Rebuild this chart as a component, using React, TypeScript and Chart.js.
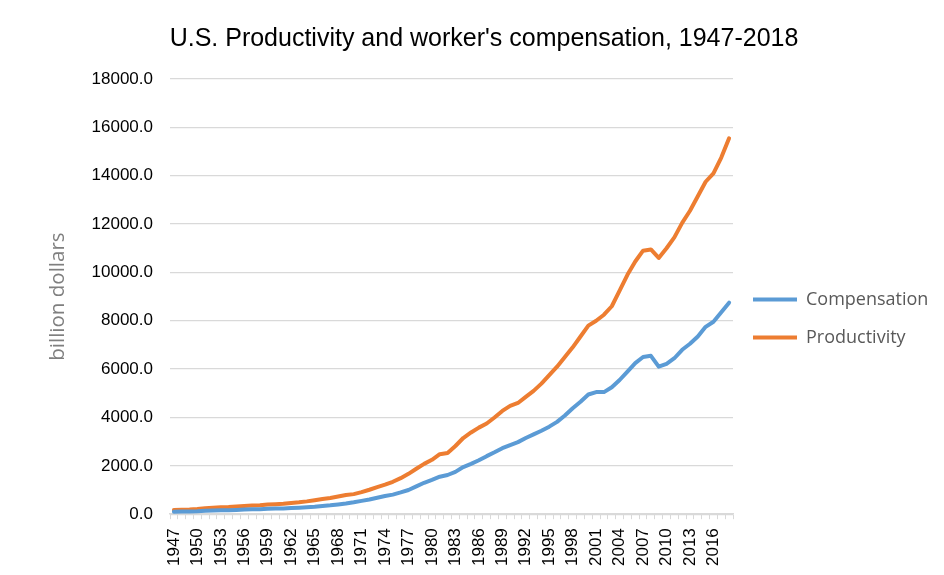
import React, { useEffect, useRef } from "react";
import { Chart, registerables } from "chart.js";

Chart.register(...registerables);

const years: string[] = [];
for (let y = 1947; y <= 2018; y++) years.push(String(y));

const compensation = [
  100, 110, 110, 120, 140, 150, 160, 165, 175, 190,
  200, 205, 220, 230, 240, 255, 270, 290, 310, 340,
  365, 400, 440, 490, 550, 610, 680, 750, 810, 900,
  1000, 1150, 1300, 1420, 1550, 1620, 1750, 1950, 2080, 2230,
  2400, 2560, 2730, 2860, 2980, 3150, 3300, 3450, 3620, 3820,
  4080, 4380, 4650, 4950, 5050, 5050, 5250, 5550, 5900, 6250,
  6500, 6550, 6100, 6220, 6450, 6800, 7050, 7350, 7750, 7960,
  8350, 8750,
];

const productivity = [
  170, 185, 190, 215, 250, 270, 290, 295, 320, 340,
  360, 370, 400, 415, 430, 465, 490, 530, 580, 630,
  670, 730, 790, 830, 910, 1010, 1120, 1220, 1340, 1490,
  1670, 1880, 2080, 2250, 2480, 2530, 2820, 3150, 3380, 3580,
  3750, 4000, 4270, 4480, 4600, 4850, 5100, 5400, 5750, 6100,
  6500, 6900, 7350, 7800, 8000, 8250, 8600, 9250, 9900, 10450,
  10900, 10950, 10600, 11000, 11450, 12050, 12550, 13150, 13750, 14100,
  14750, 15550,
];

const titleText = "U.S. Productivity and worker's compensation, 1947-2018";
const yTitle = "billion dollars";

export default function App() {
  const ref = useRef<HTMLCanvasElement | null>(null);
  useEffect(() => {
    if (!ref.current) return;
    const chart = new Chart(ref.current, {
      type: "line",
      data: {
        labels: years,
        datasets: [
          {
            label: "Compensation",
            data: compensation,
            borderColor: "#5B9BD5",
            backgroundColor: "#5B9BD5",
            borderWidth: 4,
            pointRadius: 0,
            tension: 0,
            borderJoinStyle: "round",
            borderCapStyle: "round",
          },
          {
            label: "Productivity",
            data: productivity,
            borderColor: "#ED7D31",
            backgroundColor: "#ED7D31",
            borderWidth: 4,
            pointRadius: 0,
            tension: 0,
            borderJoinStyle: "round",
            borderCapStyle: "round",
          },
        ],
      },
      options: {
        animation: false,
        responsive: true,
        maintainAspectRatio: false,
        layout: { padding: { left: 18, right: 0, bottom: 0, top: 0 } },
        plugins: {
          title: {
            display: true,
            text: titleText,
            color: "#000",
            font: { family: "'Liberation Sans', Arial, sans-serif", size: 25, weight: "normal" },
            padding: { top: 16, bottom: 25 },
          },
          legend: {
            position: "right",
            title: {
              display: true,
              text: "",
              font: { size: 10 },
              padding: { top: 42, bottom: 0 },
            },
            labels: {
              usePointStyle: true,
              pointStyle: "line",
              pointStyleWidth: 44,
              boxHeight: 4,
              padding: 20,
              color: "#595959",
              font: { family: "'Open Sans', sans-serif", size: 18 },
            },
          },
          tooltip: { enabled: false },
        },
        scales: {
          x: {
            type: "category",
            offset: true,
            afterFit: (scale: any) => {
              scale.paddingRight = 211;
            },
            grid: {
              offset: true,
              drawOnChartArea: false,
              drawTicks: true,
              tickLength: 5,
              color: "#d9d9d9",
            },
            border: { color: "#d9d9d9", width: 1.5 },
            ticks: {
              autoSkip: false,
              maxRotation: 90,
              minRotation: 90,
              padding: 9,
              color: "#000",
              font: { family: "'Liberation Sans', Arial, sans-serif", size: 17 },
              callback: (_v: any, i: number) => (i % 3 === 0 ? years[i] : ""),
            },
          },
          y: {
            min: 0,
            max: 18000,
            afterFit: (scale: any) => {
              scale.width = 146;
            },
            ticks: {
              stepSize: 2000,
              padding: 17,
              color: "#000",
              font: { family: "'Liberation Sans', Arial, sans-serif", size: 17 },
              callback: (v: any) => Number(v).toFixed(1),
            },
            grid: { color: "#d9d9d9", lineWidth: 1.3, drawTicks: false },
            border: { display: false },
            title: {
              display: true,
              text: yTitle,
              color: "#7f7f7f",
              font: { family: "'Open Sans', sans-serif", size: 20.5 },
              padding: { top: 21.5, bottom: 0 },
            },
          },
        },
      },
    });
    return () => chart.destroy();
  }, []);
  return (
    <div
      style={{
        position: "relative",
        marginLeft: -3,
        marginTop: -1,
        width: 939,
        height: 568,
        borderTop: "1px solid #d9d9d9",
        borderLeft: "1px solid #d9d9d9",
        boxSizing: "border-box",
      }}
    >
      <canvas ref={ref} />
    </div>
  );
}
